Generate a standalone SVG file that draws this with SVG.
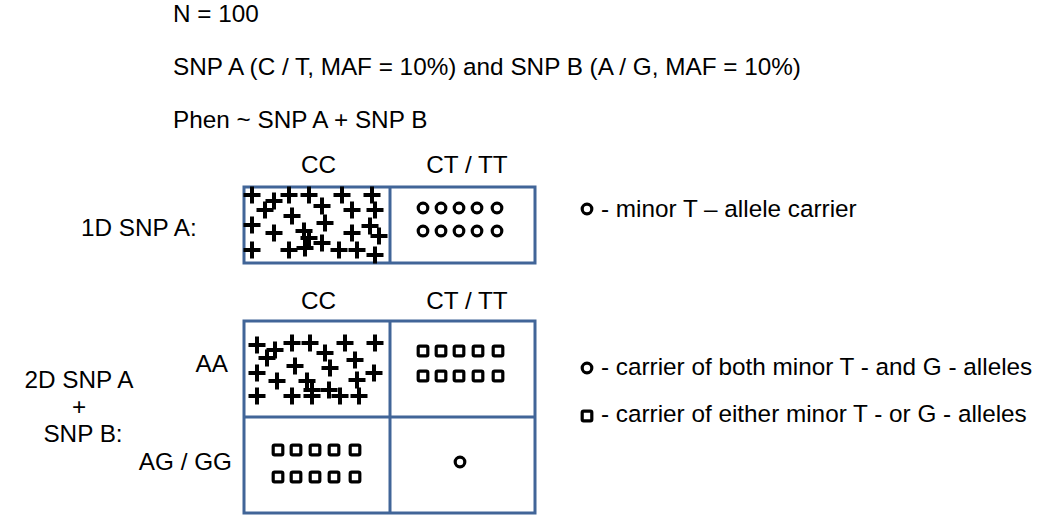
<svg xmlns="http://www.w3.org/2000/svg" xmlns:xlink="http://www.w3.org/1999/xlink" width="1044" height="522" viewBox="0 0 1044 522">
<style>
text{font-family:"Liberation Sans",Arial,sans-serif;font-size:24.3px;fill:#000}
.box{fill:#fff;stroke:#416598;stroke-width:3}
.div{stroke:#416598;stroke-width:3;fill:none}
.mid{text-anchor:middle}
.end{text-anchor:end}
</style>
<defs>
<path id="plus" d="M-8.5,0H8.5M0,-8.5V8.5" stroke="#000" stroke-width="4" fill="none"/>
<circle id="circ" r="4.8" fill="none" stroke="#000" stroke-width="3.2"/>
<rect id="sq" x="-4.8" y="-4.8" width="9.6" height="9.6" rx="1.4" fill="none" stroke="#000" stroke-width="3.2"/>
</defs>
<rect width="1044" height="522" fill="#fff"/>

<g id="header">
<text x="173" y="22">N = 100</text>
<text x="173" y="75">SNP A (C / T, MAF = 10%) and SNP B (A / G, MAF = 10%)</text>
<text x="173" y="128">Phen ~ SNP A + SNP B</text>
</g>

<g id="grid1">
<text class="mid" x="318.5" y="173">CC</text>
<text class="mid" x="467" y="173">CT / TT</text>
<text x="81" y="236">1D SNP A:</text>
<rect class="box" x="244" y="187" width="291" height="76"/>
<line class="div" x1="390" y1="187" x2="390" y2="263"/>
<g id="grid1-cc">
<use xlink:href="#plus" x="252" y="195"/>
<use xlink:href="#plus" x="274" y="201"/>
<use xlink:href="#plus" x="265" y="210"/>
<use xlink:href="#plus" x="289" y="195"/>
<use xlink:href="#plus" x="309" y="195"/>
<use xlink:href="#plus" x="342" y="195"/>
<use xlink:href="#plus" x="372" y="195"/>
<use xlink:href="#plus" x="322" y="206"/>
<use xlink:href="#plus" x="292" y="216"/>
<use xlink:href="#plus" x="352" y="210"/>
<use xlink:href="#plus" x="375" y="210"/>
<use xlink:href="#plus" x="252" y="225"/>
<use xlink:href="#plus" x="274" y="233"/>
<use xlink:href="#plus" x="325" y="223"/>
<use xlink:href="#plus" x="304" y="231"/>
<use xlink:href="#plus" x="309" y="238"/>
<use xlink:href="#plus" x="352" y="233"/>
<use xlink:href="#plus" x="370" y="226"/>
<use xlink:href="#plus" x="379" y="236"/>
<use xlink:href="#plus" x="252" y="250"/>
<use xlink:href="#plus" x="289" y="250"/>
<use xlink:href="#plus" x="305" y="248"/>
<use xlink:href="#plus" x="322" y="243"/>
<use xlink:href="#plus" x="339" y="250"/>
<use xlink:href="#plus" x="357" y="250"/>
<use xlink:href="#plus" x="375" y="255"/>
</g>
<g id="grid1-ct">
<use xlink:href="#circ" x="423" y="208"/>
<use xlink:href="#circ" x="441" y="208"/>
<use xlink:href="#circ" x="459" y="208"/>
<use xlink:href="#circ" x="477" y="208"/>
<use xlink:href="#circ" x="497" y="208"/>
<use xlink:href="#circ" x="423" y="231"/>
<use xlink:href="#circ" x="441" y="231"/>
<use xlink:href="#circ" x="459" y="231"/>
<use xlink:href="#circ" x="477" y="231"/>
<use xlink:href="#circ" x="497" y="231"/>
</g>
</g>

<g id="grid2">
<text class="mid" x="318.5" y="309">CC</text>
<text class="mid" x="467" y="309">CT / TT</text>
<text class="mid" x="79" y="388">2D SNP A</text>
<text class="mid" x="79" y="415">+</text>
<text class="mid" x="83" y="442">SNP B:</text>
<text class="end" x="228" y="372">AA</text>
<text class="end" x="232" y="470">AG / GG</text>
<rect class="box" x="244" y="321" width="291" height="192"/>
<line class="div" x1="390" y1="321" x2="390" y2="513"/>
<line class="div" x1="244" y1="417" x2="535" y2="417"/>
<g id="grid2-cc-aa">
<use xlink:href="#plus" x="257" y="345"/>
<use xlink:href="#plus" x="275" y="350"/>
<use xlink:href="#plus" x="267" y="358"/>
<use xlink:href="#plus" x="292" y="343"/>
<use xlink:href="#plus" x="310" y="343"/>
<use xlink:href="#plus" x="325" y="353"/>
<use xlink:href="#plus" x="345" y="343"/>
<use xlink:href="#plus" x="375" y="343"/>
<use xlink:href="#plus" x="295" y="366"/>
<use xlink:href="#plus" x="330" y="368"/>
<use xlink:href="#plus" x="355" y="360"/>
<use xlink:href="#plus" x="257" y="373"/>
<use xlink:href="#plus" x="277" y="381"/>
<use xlink:href="#plus" x="307" y="381"/>
<use xlink:href="#plus" x="312" y="390"/>
<use xlink:href="#plus" x="329" y="390"/>
<use xlink:href="#plus" x="357" y="380"/>
<use xlink:href="#plus" x="374" y="373"/>
<use xlink:href="#plus" x="257" y="396"/>
<use xlink:href="#plus" x="292" y="396"/>
<use xlink:href="#plus" x="312" y="396"/>
<use xlink:href="#plus" x="340" y="396"/>
<use xlink:href="#plus" x="359" y="396"/>
</g>
<g id="grid2-ct-aa">
<use xlink:href="#sq" x="423" y="351"/>
<use xlink:href="#sq" x="441" y="351"/>
<use xlink:href="#sq" x="459" y="351"/>
<use xlink:href="#sq" x="478" y="351"/>
<use xlink:href="#sq" x="498" y="351"/>
<use xlink:href="#sq" x="423" y="376"/>
<use xlink:href="#sq" x="441" y="376"/>
<use xlink:href="#sq" x="459" y="376"/>
<use xlink:href="#sq" x="478" y="376"/>
<use xlink:href="#sq" x="498" y="376"/>
</g>
<g id="grid2-cc-ag">
<use xlink:href="#sq" x="278" y="450"/>
<use xlink:href="#sq" x="296" y="450"/>
<use xlink:href="#sq" x="315" y="450"/>
<use xlink:href="#sq" x="334" y="450"/>
<use xlink:href="#sq" x="355" y="450"/>
<use xlink:href="#sq" x="278" y="477"/>
<use xlink:href="#sq" x="296" y="477"/>
<use xlink:href="#sq" x="315" y="477"/>
<use xlink:href="#sq" x="334" y="477"/>
<use xlink:href="#sq" x="355" y="477"/>
</g>
<g id="grid2-ct-ag">
<use xlink:href="#circ" x="460" y="462"/>
</g>
</g>

<g id="legend">
<use xlink:href="#circ" x="587" y="209"/>
<text x="601" y="217">- minor T – allele carrier</text>
<use xlink:href="#circ" x="587" y="368"/>
<text x="601" y="375">- carrier of both minor T - and G - alleles</text>
<use xlink:href="#sq" x="587" y="416"/>
<text x="601" y="422">- carrier of either minor T - or G - alleles</text>
</g>
<g id="connectors"/>
</svg>
